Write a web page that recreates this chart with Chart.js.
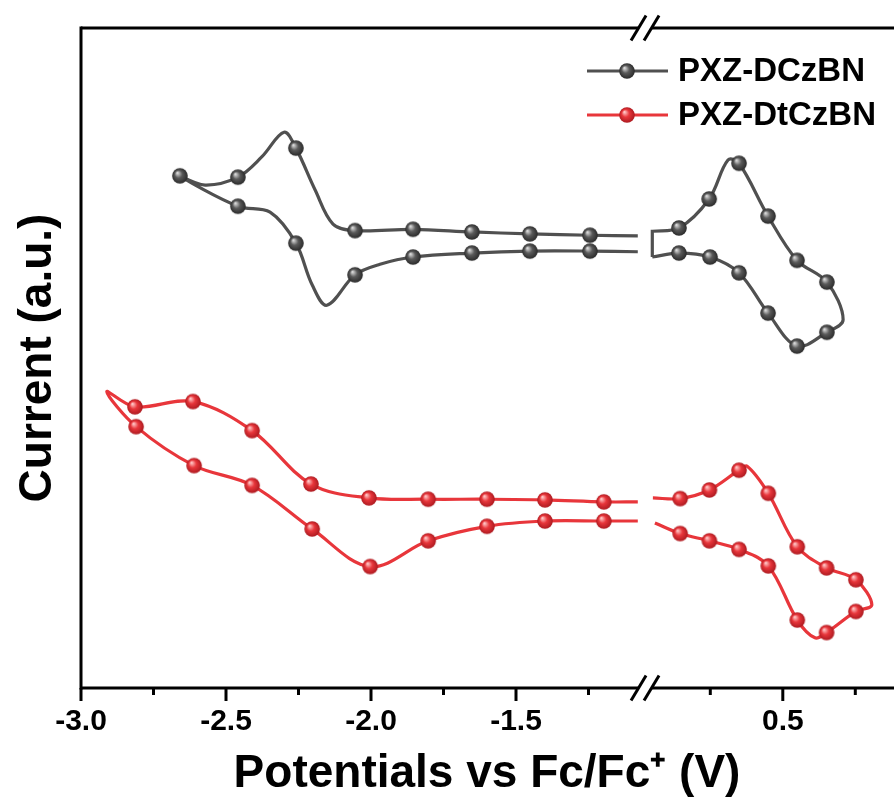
<!DOCTYPE html>
<html>
<head>
<meta charset="utf-8">
<script src="https://cdn.jsdelivr.net/npm/chart.js@4.4.1/dist/chart.umd.min.js"></script>
<style>
  html, body { margin: 0; padding: 0; background: #fff; }
  #wrap { width: 894px; height: 805px; position: relative; }
</style>
</head>
<body>
<div id="wrap"><canvas id="cv"></canvas></div>
<script>
// potential in V vs Fc/Fc+, current in a.u.; m = 1 where a marker sits
const dczbnLeftE = [-1.08, -1.245, -1.452, -1.652, -1.855, -2.055, -2.131, -2.193, -2.259, -2.30, -2.376, -2.459, -2.572, -2.659,
                    -2.459, -2.348, -2.259, -2.203, -2.152, -2.055, -1.969, -1.855, -1.652, -1.452, -1.245, -1.08];
const dczbnLeftI = [6.85, 6.86, 6.88, 6.91, 6.95, 6.93, 7.03, 7.55, 8.18, 8.42, 8.05, 7.74, 7.62, 7.76,
                    7.30, 7.21, 6.74, 6.11, 5.80, 6.26, 6.42, 6.53, 6.59, 6.62, 6.62, 6.61];
const dczbnLeftM = [0, 1, 1, 1, 1, 1, 0, 0, 1, 0, 0, 1, 0, 1,
                    1, 0, 1, 0, 0, 1, 0, 1, 1, 1, 1, 0];

// right part is a closed loop, the short vertical piece sits at the break
const dczbnRightE = [0.05, 0.05, 0.05, 0.142, 0.246, 0.311, 0.349, 0.449, 0.549, 0.652, 0.708, 0.652, 0.549, 0.449, 0.349, 0.249, 0.142, 0.05];
const dczbnRightI = [6.53, 6.92, 6.92, 6.97, 7.41, 8.00, 7.95, 7.15, 6.48, 6.15, 5.58, 5.39, 5.18, 5.68, 6.29, 6.53, 6.59, 6.53];
const dczbnRightM = [0, 0, 0, 1, 1, 0, 1, 1, 1, 1, 0, 1, 1, 1, 1, 1, 1, 0];

const dtczbnLeftE = [-1.08, -1.197, -1.40, -1.60, -1.803, -2.007, -2.207, -2.410, -2.614, -2.814, -2.911,
                     -2.810, -2.610, -2.410, -2.203, -2.003, -1.803, -1.60, -1.40, -1.197, -1.08];
const dtczbnLeftI = [2.82, 2.82, 2.85, 2.86, 2.86, 2.88, 3.09, 3.90, 4.34, 4.26, 4.49,
                     3.96, 3.37, 3.07, 2.41, 1.84, 2.23, 2.45, 2.53, 2.53, 2.53];
const dtczbnLeftM = [0, 1, 1, 1, 1, 1, 1, 1, 1, 1, 0,
                     1, 1, 1, 1, 1, 1, 1, 1, 1, 0];

const dtczbnRightE = [0.052, 0.146, 0.247, 0.349, 0.377, 0.450, 0.550, 0.651, 0.752, 0.807,
                      0.752, 0.651, 0.611, 0.550, 0.450, 0.349, 0.247, 0.146, 0.059];
const dtczbnRightI = [2.88, 2.87, 3.00, 3.30, 3.36, 2.95, 2.14, 1.82, 1.64, 1.26,
                      1.16, 0.84, 0.76, 1.03, 1.85, 2.10, 2.23, 2.34, 2.50];
const dtczbnRightM = [0, 1, 1, 1, 0, 1, 1, 1, 1, 0,
                      1, 1, 0, 1, 1, 1, 1, 1, 0];

const seriesNames = ['PXZ-DCzBN', 'PXZ-DtCzBN'];
const seriesColors = ['#505050', '#e8363b'];

const xTickValues = [-3.0, -2.75, -2.5, -2.25, -2.0, -1.75, -1.5, -1.25, 0.25, 0.5, 0.75];
const xTickLabels = ['-3.0', '', '-2.5', '', '-2.0', '', '-1.5', '', '', '0.5', ''];

// broken axis: -1.08 .. 0.05 V is cut out, right part moved left
const breakFrom = -1.08;
const breakTo = 0.05;
const shift = 1.08;
function toAxis(e) { return e > -0.5 ? e - shift : e; }

const FONT = '"Liberation Sans", Arial, sans-serif';

function sphere(base, light, dark) {
  const r = 7.8;
  const c = document.createElement('canvas');
  c.width = c.height = 18;
  const g = c.getContext('2d');
  const grd = g.createRadialGradient(9 - 2.6, 9 - 3, 0.5, 9, 9, r);
  grd.addColorStop(0, light);
  grd.addColorStop(0.45, base);
  grd.addColorStop(1, dark);
  g.fillStyle = grd;
  g.beginPath();
  g.arc(9, 9, r, 0, Math.PI * 2);
  g.fill();
  return c;
}
const spheres = [sphere('#5a5a5a', '#d8d8d8', '#2a2a2a'), sphere('#e8363b', '#ffc4c4', '#ad1a20')];

function pts(E, I, M) {
  return E.map((e, i) => ({ x: toAxis(e), y: I[i], m: M[i] }));
}
function loop(lE, lI, lM, rE, rI, rM) {
  return pts(lE, lI, lM).concat([{ x: toAxis(breakFrom), y: null, m: 0 }], pts(rE, rI, rM));
}

const dczbnData = loop(dczbnLeftE, dczbnLeftI, dczbnLeftM, dczbnRightE, dczbnRightI, dczbnRightM);
const dtczbnData = loop(dtczbnLeftE, dtczbnLeftI, dtczbnLeftM, dtczbnRightE, dtczbnRightI, dtczbnRightM);

function line(ctx, x1, y1, x2, y2) {
  ctx.beginPath();
  ctx.moveTo(x1, y1);
  ctx.lineTo(x2, y2);
  ctx.stroke();
}

const frame = {
  id: 'frame',
  afterDraw(chart) {
    const { ctx, chartArea: a, scales: { x } } = chart;
    const bx = x.getPixelForValue((toAxis(breakFrom) + toAxis(breakTo)) / 2);
    ctx.save();
    ctx.strokeStyle = '#000';
    ctx.lineWidth = 3;
    line(ctx, a.left, a.top - 1.5, a.left, a.bottom + 1.5);
    for (const y of [a.top, a.bottom]) {
      line(ctx, a.left, y, bx - 6.5, y);
      line(ctx, bx + 6.5, y, a.right + 2, y);
      line(ctx, bx - 14, y + 12.5, bx + 1, y - 12.5);
      line(ctx, bx - 1, y + 12.5, bx + 14, y - 12.5);
    }
    x.ticks.forEach((t, i) => {
      const px = x.getPixelForValue(t.value);
      line(ctx, px, a.bottom, px, a.bottom + (xTickLabels[i] ? 13 : 7));
    });
    ctx.restore();
  }
};

const legendBox = {
  id: 'legendBox',
  afterDraw(chart) {
    const ctx = chart.ctx;
    ctx.save();
    chart.data.datasets.forEach((ds, i) => {
      const y = 71 + i * 44;
      ctx.strokeStyle = ds.borderColor;
      ctx.lineWidth = 3;
      line(ctx, 587, y, 668, y);
      ctx.drawImage(ds.pointStyle, 627 - 9, y - 9);
      ctx.fillStyle = '#000';
      ctx.font = 'bold 33px ' + FONT;
      ctx.textBaseline = 'middle';
      ctx.fillText(ds.label, 678, y + 1);
    });
    ctx.restore();
  }
};

const markerRadius = c => (c.raw && c.raw.m ? 7.5 : 0);

new Chart(document.getElementById('cv'), {
  type: 'line',
  data: {
    datasets: [
      { label: seriesNames[0], data: dczbnData, borderColor: seriesColors[0], borderWidth: 3.2, tension: 0.35,
        pointStyle: spheres[0], pointRadius: markerRadius, spanGaps: false, fill: false },
      { label: seriesNames[1], data: dtczbnData, borderColor: seriesColors[1], borderWidth: 3.2, tension: 0.35,
        pointStyle: spheres[1], pointRadius: markerRadius, spanGaps: false, fill: false }
    ]
  },
  options: {
    animation: false,
    responsive: true,
    maintainAspectRatio: false,
    layout: { padding: { top: 28, right: 1, left: 0, bottom: 0 } },
    plugins: { legend: { display: false }, tooltip: { enabled: false } },
    scales: {
      x: {
        type: 'linear', min: -3.0, max: -0.2,
        afterBuildTicks: s => { s.ticks = xTickValues.map(v => ({ value: toAxis(v) })); },
        afterFit: s => { s.height = 117; },
        grid: { display: false },
        border: { display: false },
        ticks: { autoSkip: false, maxRotation: 0, padding: 8, color: '#000',
                 font: { family: FONT, size: 30, weight: 'bold' },
                 callback: (v, i) => xTickLabels[i] },
        title: { display: true, text: 'Potentials vs Fc/Fc⁺ (V)', color: '#000',
                 font: { family: FONT, size: 46, weight: 'bold' }, padding: { top: 0, bottom: 3 } }
      },
      y: {
        min: 0, max: 10,
        afterFit: s => { s.width = 81; },
        grid: { display: false },
        border: { display: false },
        ticks: { display: false },
        title: { display: true, text: 'Current (a.u.)', color: '#000',
                 font: { family: FONT, size: 46, weight: 'bold' }, padding: { top: 11, bottom: 0 } }
      }
    }
  },
  plugins: [frame, legendBox]
});
</script>
</body>
</html>
